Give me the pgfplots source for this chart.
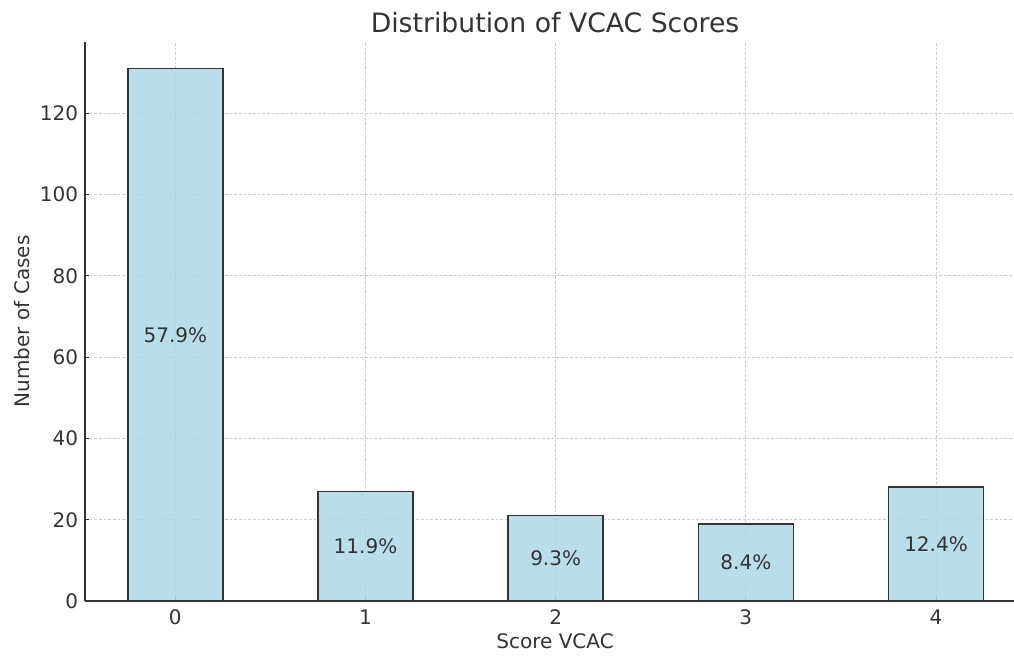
\documentclass[border=0pt]{standalone}
\usepackage{fontspec}
\setmainfont{DejaVu Sans}
\usepackage{pgfplots}
\pgfplotsset{compat=1.18}
\definecolor{barblue}{HTML}{ADD8E6}
\definecolor{txt}{HTML}{333333}
\definecolor{gridc}{HTML}{CCCCCC}
\begin{document}
\begin{tikzpicture}
\begin{axis}[
  scale only axis,
  width=696.75pt, height=419.5pt,
  xmin=-0.475, xmax=4.41,
  ymin=0, ymax=137.55,
  axis x line*=bottom, axis y line*=left,
  x axis line style={-}, y axis line style={-},
  axis line style={draw=txt, line width=0.9pt},
  xtick={0,1,2,3,4},
  ytick={0,20,40,60,80,100,120},
  tick align=inside,
  major tick length=3pt,
  tick style={draw=txt, line width=0.8pt},
  grid=major,
  major grid style={draw=gridc, line width=0.6pt, dash pattern=on 2pt off 1.5pt},
  /pgf/number format/assume math mode=true,
  ticklabel style={font=\fontsize{15}{18}\selectfont, text=txt},
  xticklabel style={anchor=base, yshift=-17.25pt},
  yticklabel style={anchor=east, inner sep=0pt, xshift=-5pt},
  every axis title shift=0pt,
  title={Distribution of VCAC Scores},
  title style={at={(axis description cs:0.506,1.0174)}, anchor=base, font=\fontsize{20}{24}\selectfont, text=txt},
  xlabel={Score VCAC},
  xlabel style={at={(axis description cs:0.506,-0.084)}, anchor=base, font=\fontsize{15}{18}\selectfont, text=txt},
  ylabel={Number of Cases},
  ylabel style={at={(axis description cs:-0.0678,0.5)}, anchor=center, font=\fontsize{15}{18}\selectfont, text=txt},
  clip=true,
]
\addplot[ybar, bar width=0.5, bar shift=0pt, fill=barblue, fill opacity=0.85, draw=txt, draw opacity=1, line width=1.1pt]
  table[x=x, y=y] {
x y
0 131
1 27
2 21
3 19
4 28
};
\addplot[draw=none, mark=none, nodes near coords={\pgfmathprintnumber[fixed,fixed zerofill,precision=1]{\pgfplotspointmeta}\%},
  point meta=explicit,
  every node near coord/.append style={anchor=center, font=\fontsize{15}{18}\selectfont, text=txt}]
  table[x=x, y=y, meta=p] {
x y p
0 65.5 57.9
1 13.5 11.9
2 10.5 9.3
3 9.5 8.4
4 14 12.4
};
\end{axis}
\pgfresetboundingbox
\path[use as bounding box] ([xshift=-63.75pt,yshift=-40.5pt]current axis.south west) rectangle ([yshift=31.3pt]current axis.north east);
\end{tikzpicture}
\end{document}
